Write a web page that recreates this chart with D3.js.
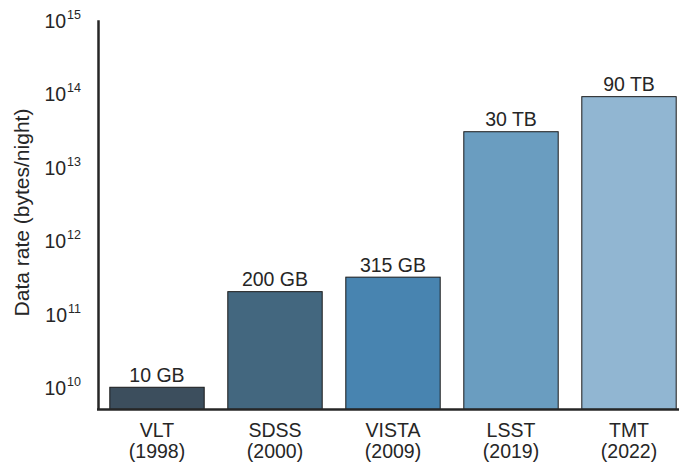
<!DOCTYPE html>
<html>
<head>
<meta charset="utf-8">
<script src="https://cdn.jsdelivr.net/npm/d3@7"></script>
<style>
  body { margin: 0; background: #fff; }
  text { font-family: "Liberation Sans", Arial, sans-serif; fill: #262626; }
</style>
</head>
<body>
<div id="chart"></div>
<script>
// survey data rates, log scale bar chart
const names = ["VLT", "SDSS", "VISTA", "LSST", "TMT"];
const years = ["(1998)", "(2000)", "(2009)", "(2019)", "(2022)"];
const rates = [1e10, 2e11, 3.15e11, 3e13, 9e13];
const rateLabels = ["10 GB", "200 GB", "315 GB", "30 TB", "90 TB"];
const barColors = ["#3c4e5d", "#43677f", "#4884b0", "#6a9dc0", "#91b6d2"];
const yTicks = [1e10, 1e11, 1e12, 1e13, 1e14, 1e15];

const width = 679, height = 465;
const plotLeft = 98, plotTop = 19.8, plotBottom = 409.4;

const svg = d3.select("#chart")
  .append("svg")
  .attr("width", width)
  .attr("height", height);

const x = d3.scaleBand()
  .domain(names)
  .range([plotLeft, plotLeft + 590])
  .paddingInner(0.2)
  .paddingOuter(0.1);

const y = d3.scaleLog()
  .domain([5e9, 1e15])
  .range([plotBottom, plotTop]);

// bars
svg.selectAll(".bar")
  .data(names)
  .enter()
  .append("rect")
  .attr("class", "bar")
  .attr("x", d => x(d))
  .attr("width", x.bandwidth())
  .attr("y", (d, i) => y(rates[i]))
  .attr("height", (d, i) => plotBottom - y(rates[i]))
  .attr("fill", (d, i) => barColors[i])
  .attr("stroke", "#1a1a1a")
  .attr("stroke-width", 1);

// value labels above bars
svg.selectAll(".label")
  .data(names)
  .enter()
  .append("text")
  .attr("x", d => x(d) + x.bandwidth() / 2)
  .attr("y", (d, i) => y(rates[i]) - 5.6)
  .attr("text-anchor", "middle")
  .attr("font-size", "19.5px")
  .text((d, i) => rateLabels[i]);

// y axis
const yAxis = svg.append("g")
  .attr("transform", `translate(${plotLeft},0)`)
  .call(d3.axisLeft(y).tickValues(yTicks).tickSize(0).tickFormat(""));
yAxis.select(".domain").attr("stroke", "#262626").attr("stroke-width", 2.5);

yAxis.selectAll(".tick").each(function(d) {
  const t = d3.select(this).append("text")
    .attr("x", -17)
    .attr("y", 7.3)
    .attr("text-anchor", "end")
    .attr("font-size", "19.5px");
  t.append("tspan").text("10");
  t.append("tspan")
    .attr("dx", "1")
    .attr("dy", "-8.7")
    .attr("font-size", "12.5px")
    .text(Math.round(Math.log10(d)));
});

// x axis
const xAxis = svg.append("g")
  .attr("transform", `translate(0,${plotBottom})`)
  .call(d3.axisBottom(x).tickSize(0).tickFormat(""));
xAxis.select(".domain").attr("stroke", "#262626").attr("stroke-width", 2.5)
  .attr("d", `M${plotLeft - 1},0H${width}`);

xAxis.selectAll(".tick").each(function(d, i) {
  const t = d3.select(this).append("text")
    .attr("text-anchor", "middle")
    .attr("font-size", "19.5px");
  t.append("tspan").attr("x", 0).attr("y", 28).text(d);
  t.append("tspan").attr("x", 0).attr("y", 49).text(years[i]);
});

// y label
svg.append("text")
  .attr("transform", `translate(29,212.5) rotate(-90)`)
  .attr("text-anchor", "middle")
  .attr("font-size", "21px")
  .text("Data rate (bytes/night)");
</script>
</body>
</html>
